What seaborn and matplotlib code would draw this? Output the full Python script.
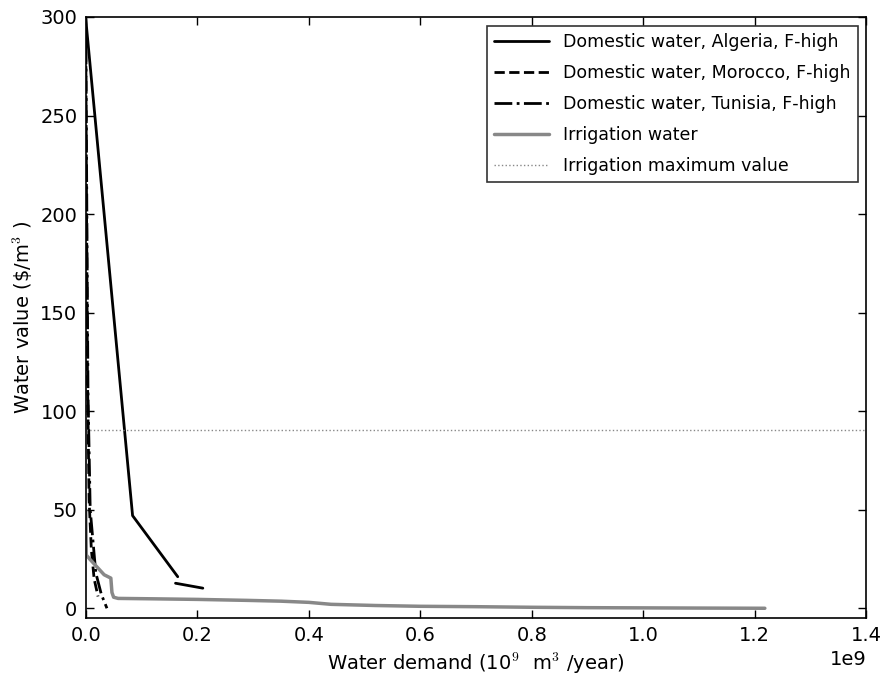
"""
Water value vs water demand: domestic demand curves (F-high) and irrigation curve
"""
import numpy as np
import pandas as pd
import matplotlib
matplotlib.use('Agg')
import matplotlib.pyplot as plt
import seaborn as sns

# ==================== data ====================
# Algeria curve has a break between its two pieces
algeria_x = [0.0, 0.084e9, 0.165e9]
algeria_y = [299, 47, 16]
algeria2_x = [0.161e9, 0.210e9]
algeria2_y = [12.7, 10.2]

morocco_x = [0.0, 0.0015e9, 0.003e9, 0.006e9, 0.010e9, 0.015e9, 0.022e9]
morocco_y = [290, 200, 120, 55, 30, 15, 6]

tunisia_x = [0.0, 0.002e9, 0.004e9, 0.008e9, 0.018e9, 0.028e9, 0.038e9]
tunisia_y = [300, 200, 110, 50, 18, 7, 0]

irrig_x = [0.0, 0.001e9, 0.007e9, 0.033e9, 0.045e9, 0.047e9, 0.050e9, 0.058e9,
           0.12e9, 0.2e9, 0.29e9, 0.35e9, 0.40e9, 0.44e9, 0.52e9, 0.6e9,
           0.7e9, 0.8e9, 0.9e9, 1.0e9, 1.1e9, 1.218e9]
irrig_y = [50, 27, 25, 17, 15.3, 8, 5.6, 5.0,
           4.8, 4.5, 4.0, 3.6, 3.0, 2.0, 1.4, 1.0,
           0.8, 0.5, 0.3, 0.2, 0.1, 0.0]

irrig_max = 90.5

sns.set_style('ticks')
plt.rcParams['font.family'] = ['DejaVu Sans']
plt.rcParams['mathtext.fontset'] = 'cm'
plt.rcParams['text.color'] = 'black'
plt.rcParams['axes.labelcolor'] = 'black'

fig = plt.figure(figsize=(8.84, 6.8), dpi=100)
ax = fig.add_axes([0.097, 0.091, 0.883, 0.884])

sns.lineplot(x=algeria_x, y=algeria_y, ax=ax, color='black', lw=2,
             sort=False, estimator=None)
sns.lineplot(x=algeria2_x, y=algeria2_y, ax=ax, color='black', lw=2,
             sort=False, estimator=None)
sns.lineplot(x=morocco_x, y=morocco_y, ax=ax, color='black', lw=2,
             linestyle='--', sort=False, estimator=None)
sns.lineplot(x=tunisia_x, y=tunisia_y, ax=ax, color='black', lw=2,
             linestyle='-.', sort=False, estimator=None)
sns.lineplot(x=irrig_x, y=irrig_y, ax=ax, color='#888888', lw=2.5,
             sort=False, estimator=None)
ax.axhline(irrig_max, color='#888888', lw=1, linestyle=':')

ax.set_xlim(0, 1.4e9)
ax.set_ylim(-5, 300)
ax.set_xticks(np.arange(0, 1.41e9, 0.2e9))
ax.set_yticks(np.arange(0, 301, 50))

ax.tick_params(direction='in', top=True, right=True, length=6, width=1,
               labelsize=14, pad=6, colors='black')
for s in ax.spines.values():
    s.set_linewidth(1.2)
    s.set_color('black')
ax.xaxis.get_offset_text().set_fontsize(14)

ax.set_xlabel('Water demand (10$^9$  m$^3$ /year)', fontsize=14)
ax.set_ylabel('Water value (\\$/m$^3$ )', fontsize=14)

handles = [
    plt.Line2D([], [], color='black', lw=2),
    plt.Line2D([], [], color='black', lw=2, linestyle='--'),
    plt.Line2D([], [], color='black', lw=2, linestyle='-.'),
    plt.Line2D([], [], color='#888888', lw=2.5),
    plt.Line2D([], [], color='#888888', lw=1, linestyle=':'),
]
labels = ['Domestic water, Algeria, F-high',
          'Domestic water, Morocco, F-high',
          'Domestic water, Tunisia, F-high',
          'Irrigation water',
          'Irrigation maximum value']
leg = ax.legend(handles, labels, loc='upper right', fontsize=12.5,
                frameon=True, fancybox=False, handlelength=3.2,
                borderaxespad=0.5, labelspacing=0.75)
leg.get_frame().set_edgecolor('black')
leg.get_frame().set_linewidth(1.2)
for t in leg.get_texts():
    t.set_color('black')

fig.savefig('out.png', dpi=100)
